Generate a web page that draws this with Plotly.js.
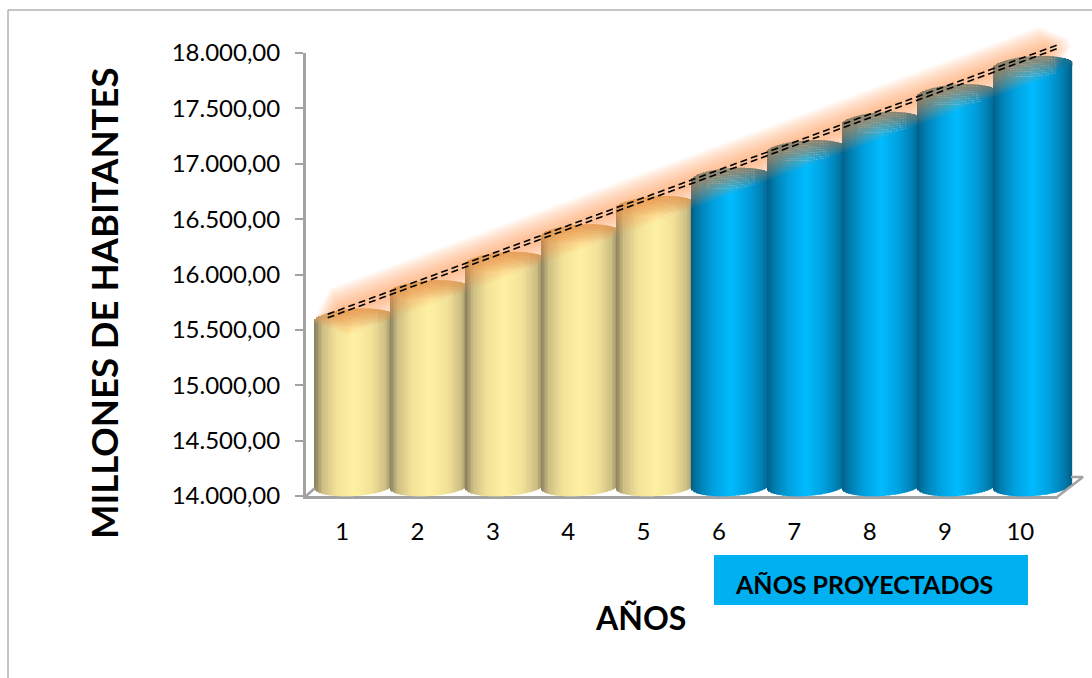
<!DOCTYPE html>
<html><head><meta charset="utf-8">
<script src="https://cdn.plot.ly/plotly-3.0.1.min.js"></script>
<style>html,body{margin:0;padding:0;background:#fff}#c{width:1092px;height:678px}</style>
</head><body><div id="c"></div>
<script>
const categories=[1,2,3,4,5,6,7,8,9,10];
const habitantes=[15510,15765,16020,16270,16525,16780,17030,17285,17535,17790];
const historicos=5; // first five years are real, the rest are projected
const tickValues=[14000,14500,15000,15500,16000,16500,17000,17500,18000];
const trendX=[0.81,10.51];
const trendY=[15625,18060];
const yTitle="MILLONES DE HABITANTES";
const xTitle="AÑOS";
const boxLabel="AÑOS PROYECTADOS";

const W=1092,H=678,L=306,R=1058,T=53,B=496;
const pxX=75.35, pxY=(B-T)/4000;     // px per x unit, px per y unit
const ux=p=>p/pxX, uy=p=>p/pxY;
const valX=p=>1+(p-342)/pxX, valY=p=>14000+(B-p)/pxY;

const yellow=[[0,[255,241,163]],[.45,[242,226,152]],[.8,[205,190,132]],[1,[135,126,92]]];
const blue=[[0,[0,187,255]],[.45,[0,160,222]],[.8,[0,125,176]],[1,[0,95,135]]];
function ramp(r,s){for(let i=1;i<r.length;i++){if(s<=r[i][0]){const a=r[i-1],b=r[i],f=(s-a[0])/(b[0]-a[0]);return a[1].map((v,k)=>v+(b[1][k]-v)*f);}}return r[r.length-1][1];}
const css=c=>`rgb(${c.map(v=>Math.round(v)).join(',')})`;

const STRIPS=52, SEG=8;
const shiftX=ux(12.5), backY=uy(10), rx=ux(39.5), arc=uy(10), tilt=uy(2.5);
const bars={x:[],y:[],base:[],width:[],color:[]};
function pushBar(x,base,h,w,c){bars.x.push(x);bars.base.push(base);bars.y.push(h);bars.width.push(w);bars.color.push(c);}
categories.forEach((c,i)=>{
  const hist=i<historicos, r=hist?yellow:blue, v=habitantes[i];
  for(let s=0;s<STRIPS;s++){
    const t=-1+(2*s+1)/STRIPS, cx=c+shiftX+t*rx, w=2*rx/STRIPS, a=arc*Math.sqrt(1-t*t), tl=tilt*t;
    const col=ramp(r,Math.abs(t));
    const base=14000+backY-a+tl, top=v+backY-a+tl;
    pushBar(cx,base,top-base,w*1.02,css(col));
    const h=2*a/SEG;
    for(let k=0;k<SEG;k++){
      const f=k/(SEG-1); // 0 front edge, 1 back edge
      const tone=hist?[206,160,96]:[30,110,140];
      const m=col.map((u,n)=>u*(1-0.75*f)+tone[n]*0.75*f);
      pushBar(cx,top+k*h,h*1.02,w*1.02,css(m));
    }
  }
});
const hidden={xaxis:'x2',yaxis:'y2',cliponaxis:false,hoverinfo:'skip',showlegend:false};
const barTrace={type:'bar',x:bars.x,y:bars.y,base:bars.base,width:bars.width,marker:{color:bars.color,line:{width:0}},...hidden};
const axisData={type:'scatter',mode:'markers',x:categories,y:habitantes,marker:{opacity:0,size:1},hoverinfo:'skip',showlegend:false};

const floor={type:'scatter',mode:'lines',connectgaps:false,
  x:[valX(1057),valX(1083),valX(1071),null,valX(305),valX(315)],
  y:[valY(497),valY(477),valY(477),null,valY(497),valY(488)],
  line:{color:'#a3a3a3',width:2.5},...hidden};

const slope=(trendY[1]-trendY[0])/(trendX[1]-trendX[0]);
const glowWidths=[50,46,42,38,34,30,26,22,18,14,10];
const glow=glowWidths.map((w,n)=>{const e=-0.14+n*0.028;return {
  type:'scatter',mode:'lines',
  x:[trendX[0]-e,trendX[1]+e],y:[trendY[0]-e*slope,trendY[1]+e*slope],
  line:{color:'rgba(250,150,75,0.065)',width:w},...hidden};});
const dash=[-1,1].map(o=>({type:'scatter',mode:'lines',x:trendX,y:trendY.map(v=>v+o*uy(1.8)),
  line:{color:'#000',width:1.6,dash:'7px,4px'},...hidden}));

const font='Lato, Carlito, Calibri, sans-serif';
const px=p=>p/W, py=p=>1-p/H;
const layout={
  width:W,height:H,margin:{l:0,r:0,t:0,b:0,pad:0},
  paper_bgcolor:'#fff',plot_bgcolor:'rgba(0,0,0,0)',showlegend:false,separators:',.',barmode:'overlay',
  font:{family:font,color:'#000',size:24},
  xaxis:{domain:[px(L),px(R)],range:[0.52,10.5],tickvals:categories,ticktext:categories.map(String),showgrid:false,zeroline:false,
    showline:true,linecolor:'#a3a3a3',linewidth:3,ticks:'',tickfont:{size:24},ticklabelstandoff:12,anchor:'y'},
  yaxis:{domain:[py(B),py(T)],range:[14000,18000],tickvals:tickValues,tickformat:',.2f',showgrid:false,zeroline:false,
    showline:true,linecolor:'#a3a3a3',linewidth:3,ticks:'outside',ticklen:8,tickwidth:1.5,tickcolor:'#a3a3a3',tickfont:{size:24},ticklabelstandoff:10,anchor:'x'},
  xaxis2:{domain:[0,1],range:[valX(0),valX(W)],visible:false,anchor:'y2'},
  yaxis2:{domain:[0,1],range:[valY(H),valY(0)],visible:false,anchor:'x2'},
  shapes:[
    {type:'line',xref:'paper',yref:'paper',x0:px(8),x1:px(W),y0:py(10),y1:py(10),line:{color:'#8c8c8c',width:1}},
    {type:'line',xref:'paper',yref:'paper',x0:px(8),x1:px(8),y0:py(10),y1:py(H),line:{color:'#8c8c8c',width:1}},
    {type:'rect',xref:'paper',yref:'paper',x0:px(714),x1:px(1028),y0:py(555),y1:py(605),fillcolor:'#00B0F0',line:{width:0}}
  ],
  annotations:[
    {xref:'paper',yref:'paper',x:px(863.5),y:py(584),text:boxLabel,showarrow:false,font:{size:25,family:font,weight:700,color:'#000'},xanchor:'center',yanchor:'middle'},
    {xref:'paper',yref:'paper',x:px(640),y:py(617),text:xTitle,showarrow:false,font:{size:32,family:font,weight:700,color:'#000'},xanchor:'center',yanchor:'middle'},
    {xref:'paper',yref:'paper',x:px(104),y:py(304),text:yTitle,textangle:-90,showarrow:false,font:{size:36.5,family:font,weight:700,color:'#000'},xanchor:'center',yanchor:'middle'}
  ]
};
Plotly.newPlot('c',[axisData,floor,barTrace,...glow,...dash],layout,{displayModeBar:false,responsive:false});
</script></body></html>
